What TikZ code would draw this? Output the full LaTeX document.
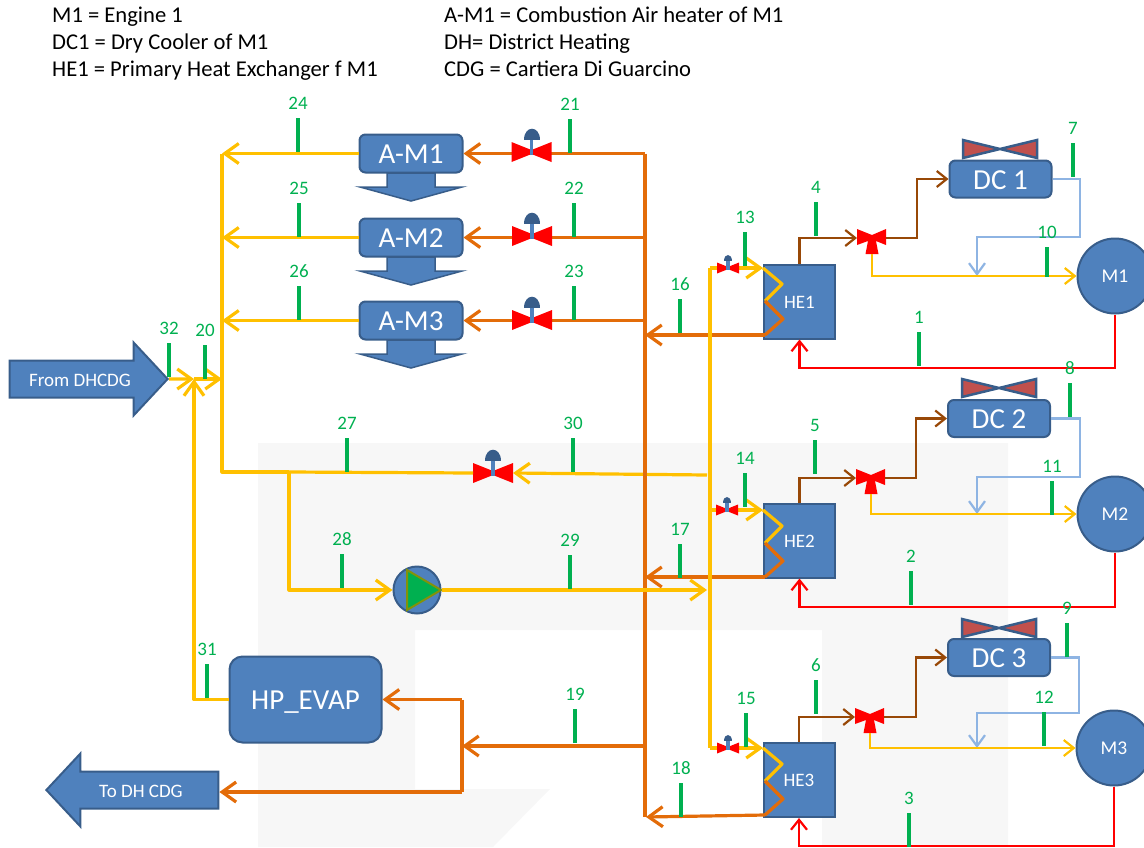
\documentclass[tikz,border=0pt]{standalone}
\usepackage{fontspec}
\setmainfont{Carlito}
\usetikzlibrary{arrows.meta, shapes.arrows, calc}
\definecolor{blockblue}{HTML}{4F81BD}
\definecolor{blockedge}{HTML}{385D8A}
\definecolor{pipeyellow}{HTML}{FFC000}
\definecolor{pipeorange}{HTML}{E36C09}
\definecolor{pipebrown}{HTML}{984807}
\definecolor{pipesky}{HTML}{8EB4E3}
\definecolor{metergreen}{HTML}{00B050}
\definecolor{fanred}{HTML}{C0504D}
\definecolor{markgray}{HTML}{F7F7F7}
\tikzset{
    pipeY/.style={line width=3.2pt, color=pipeyellow, line join=round},
    pipeO/.style={line width=3.2pt, color=pipeorange, line join=round},
    arrY/.style={pipeY, -{Straight Barb[length=14pt, width=20pt]}},
    arrO/.style={pipeO, -{Straight Barb[length=14pt, width=20pt]}},
    arrYthin/.style={-{Straight Barb[length=10pt, width=16pt]}, line width=2.2pt, color=pipeyellow},
    arrB/.style={-{Straight Barb[length=10pt, width=16pt]}, line width=2.2pt, color=pipebrown},
    arrS/.style={-{Straight Barb[length=11pt, width=16pt]}, line width=2.2pt, color=pipesky},
    arrR/.style={-{Straight Barb[length=10pt, width=16pt]}, line width=2.2pt, color=red},
    box/.style={draw=blockedge, fill=blockblue, rounded corners=6pt, line width=2pt, inner sep=0pt,
        text height=20pt, text depth=0pt, text=white, font=\fontsize{29}{30}\selectfont, align=center},
    hex/.style={rectangle, draw=blockedge, fill=blockblue, line width=2pt, inner sep=0pt,
        minimum width=71pt, minimum height=74pt, text height=13pt, text depth=0pt, text=white,
        font=\fontsize{19}{20}\selectfont},
    engine/.style={circle, draw=blockedge, fill=blockblue, line width=2pt, inner sep=0pt,
        minimum size=75pt, text height=13pt, text depth=0pt, text=white, font=\fontsize{19.5}{20}\selectfont},
    pumpbody/.style={circle, draw=blockedge, fill=blockblue, line width=2pt, inner sep=0pt, minimum size=47pt},
    pumptri/.style={draw=olive!80!green, fill=metergreen, line width=2pt, line join=miter},
    bigarr/.style={single arrow, draw=blockedge, fill=blockblue, line width=2pt, text=white, inner xsep=0pt,
        inner ysep=10pt, text height=15pt, text depth=0pt, minimum width=71pt, single arrow head extend=18pt,
        single arrow tip angle=94, font=\fontsize{19}{20}\selectfont},
    legend/.style={anchor=base west, inner sep=0pt, font=\fontsize{22.6}{24}\selectfont},
    numlbl/.style={inner sep=0pt, yshift=8pt, text=metergreen, font=\fontsize{19}{20}\selectfont},
    meter/.style={rectangle, fill=metergreen, inner sep=0pt, minimum width=3.6pt, minimum height=34pt,
        label distance=7pt, label={[numlbl]above:#1}},
    coolarr/.pic={
        \draw[draw=blockedge, fill=blockblue, line width=1.5pt, line join=miter]
            (-24,0) -- (-24,14) -- (-51,14) -- (0,28) -- (51,14) -- (24,14) -- (24,0) -- cycle;
    },
    valve/.pic={
        \fill[red] (-20,-10) -- (0,-2) -- (20,-10) -- (20,10) -- (0,2) -- (-20,10) -- cycle;
        \draw[blockblue, line width=3.5pt] (0,3) -- (0,-14);
        \fill[blockedge] (-8,-12) .. controls (-8,-27) and (8,-27) .. (8,-12) -- cycle;
        \coordinate (-west) at (-20,0);
        \coordinate (-east) at (20,0);
    },
    threeway/.pic={
        \fill[red] (-15,-9) -- (0,-3) -- (14,-9) -- (14,7) -- (4,3) -- (6.5,16) -- (-6.5,16) -- (-4,3)
            -- (-15,7) -- cycle;
        \coordinate (-west) at (-15,0);
        \coordinate (-east) at (14,0);
        \coordinate (-south) at (0,16);
    },
    fan/.pic={
        \draw[draw=blockedge, fill=fanred, line width=2.5pt] (-37,-9) -- (-37,9) -- (37,-9) -- (37,9) -- cycle;
    },
    zigzag/.pic={
        \draw[pipeY] (0,4) -- (19,20) -- (2,37);
        \draw[pipeO] (2,37) -- (20,55) -- (2,71);
        \coordinate (-in) at (0,4);
        \coordinate (-out) at (2,71);
    }
}
\begin{document}
\begin{tikzpicture}[x=1pt, y=-1pt]
    \useasboundingbox (0,0) rectangle (1144,847);
    \clip (0,0) rectangle (1144,847);
    \fill[markgray] (258,443) -- (1008,443) -- (1008,847) -- (822,847) -- (822,630) -- (415,630) -- (415,789)
        -- (550,789) -- (493,847) -- (258,847) -- cycle;

    \node[legend] (lg1) at (52,22) {M1 = Engine 1};
    \node[legend] (lg2) at (52,49) {DC1 = Dry Cooler of M1};
    \node[legend] (lg3) at (52,76) {HE1 = Primary Heat Exchanger f M1};
    \node[legend] (lg4) at (444,22) {A-M1 = Combustion Air heater of M1};
    \node[legend] (lg5) at (444,49) {DH= District Heating};
    \node[legend] (lg6) at (444,76) {CDG = Cartiera Di Guarcino};

    \pic at (411,173) {coolarr};
    \pic at (411,257) {coolarr};
    \pic at (411,340) {coolarr};
    \node[box, minimum width=103pt, minimum height=38pt] (am1) at (411,153.5) {A-M1};
    \node[box, minimum width=103pt, minimum height=38pt] (am2) at (411,237.5) {A-M2};
    \node[box, minimum width=103pt, minimum height=38pt] (am3) at (411,320.5) {A-M3};
    \node[box, minimum width=152pt, minimum height=86pt, rounded corners=13pt] (hp) at (305.5,699.5) {HP\_EVAP};
    \node[bigarr, minimum height=158pt] (from) at (80,379) {From DHCDG};
    \node[bigarr, minimum height=172pt, shape border rotate=180] (todh) at (141,790) {To DH CDG};

    \node[hex] (he1) at (799.5,301.5) {HE1};
    \node[hex] (he2) at (799.5,540.5) {HE2};
    \node[hex] (he3) at (799,780) {HE3};
    \node[engine] (m1) at (1115,276) {M1};
    \node[engine] (m2) at (1115,514) {M2};
    \node[engine] (m3) at (1114,748) {M3};
    \pic at (1000,149) {fan};
    \pic at (999,388) {fan};
    \pic at (999,628) {fan};
    \node[box, minimum width=102pt, minimum height=37pt] (dc1) at (1000.5,179) {DC 1};
    \node[box, minimum width=102pt, minimum height=37pt] (dc2) at (999,418.5) {DC 2};
    \node[box, minimum width=102pt, minimum height=37pt] (dc3) at (999,657.5) {DC 3};
    \node[pumpbody] (pump) at (417,590) {};
    \draw[pumptri] (407,570) -- (407,610) -- (441,590) -- cycle;

    \coordinate (otop) at (645,153.5);
    \coordinate (obot) at (646,817);
    \coordinate (ytop) at (222,153.5);
    \coordinate (ybot) at (222,472);
    \coordinate (yfork) at (289,472);
    \coordinate (ycol) at (710,500);
    \coordinate (yin) at (707,475);
    \coordinate (yend) at (707,590);
    \coordinate (ymix) at (194,379);
    \coordinate (ojoin) at (462,746);
    \coordinate (obend) at (462,792);
    \coordinate (rk1) at (799.5,368);
    \coordinate (rk2) at (799.5,607);
    \coordinate (rk3) at (799,846);
    \coordinate (bk1) at (917,179);
    \coordinate (bk2) at (916,418.5);
    \coordinate (bk3) at (916,657.5);
    \coordinate (sk1) at (1080,237);
    \coordinate (sk2) at (1080,477);
    \coordinate (sk3) at (1079,713);
    \coordinate (mj1) at (977,276);
    \coordinate (mj2) at (977,514);
    \coordinate (mj3) at (977,748);

    \pic (zz1) at (763,264) {zigzag};
    \pic (zz2) at (763,506) {zigzag};
    \pic (zz3) at (763,744) {zigzag};

    \pic (v30) at (493,473) {valve};
    \draw[arrY] (yin) -- (v30-east);
    \draw[pipeO] (otop) -- (obot -| otop);
    \draw[arrO] (otop) -- (am1.east);
    \draw[arrO] (otop |- am2.east) -- (am2.east);
    \draw[arrO] (otop |- am3.east) -- (am3.east);
    \draw[arrO] (zz1-out) -- (otop |- zz1-out);
    \draw[arrO] (zz2-out) -- (otop |- zz2-out);
    \draw[arrO] (zz3-out) -- (obot);
    \draw[arrO] (otop |- ojoin) -- (ojoin);
    \draw[arrO] (ojoin |- hp.east) -- (hp.east);
    \draw[pipeO] (ojoin |- hp.east) -- (obend);
    \draw[arrO] (obend) -- (obend -| todh.east);

    \draw[arrY] (am1.west) -- (ytop);
    \draw[arrY] (am2.west) -- (am2.west -| ytop);
    \draw[arrY] (am3.west) -- (am3.west -| ytop);
    \draw[pipeY] (ytop) -- (ybot) -- (yfork);
    \draw[pipeY] (yfork) -- (v30-west);
    \draw[arrY] (yfork) |- (pump.west);
    \draw[arrY] (pump.east) -- (yend);
    \draw[pipeY] (ycol |- zz1-in) -- (ycol |- zz3-in);
    \draw[arrY] (ycol |- zz1-in) -- (zz1-in);
    \draw[arrY] (ycol |- zz2-in) -- (zz2-in);
    \draw[arrY] (ycol |- zz3-in) -- (zz3-in);
    \draw[arrY] (from.east) -- (ymix);
    \draw[arrY] (ymix) -- (ymix -| ytop);
    \draw[arrY] (hp.west) -| (ymix);

    \pic (v21) at (531.5,152) {valve};
    \pic (v22) at (532,236) {valve};
    \pic (v23) at (532,320) {valve};
    \pic[scale=.55] (v13) at (728,268) {valve};
    \pic[scale=.55] (v14) at (727,510) {valve};
    \pic[scale=.55] (v15) at (728,748) {valve};

    \pic (tv1) at (872,238) {threeway};
    \pic (tv2) at (871,478) {threeway};
    \pic (tv3) at (870,717) {threeway};
    \draw[arrB] (he1.north) |- (tv1-west);
    \draw[arrB] (he2.north) |- (tv2-west);
    \draw[arrB] (he3.north) |- (tv3-west);
    \draw[arrB] (tv1-east) -| (bk1) -- (dc1.west);
    \draw[arrB] (tv2-east) -| (bk2) -- (dc2.west);
    \draw[arrB] (tv3-east) -| (bk3) -- (dc3.west);
    \draw[arrS] (dc1.east) -| (sk1) -| (mj1);
    \draw[arrS] (dc2.east) -| (sk2) -| (mj2);
    \draw[arrS] (dc3.east) -| (sk3) -| (mj3);
    \draw[arrYthin] (tv1-south) |- (m1.west);
    \draw[arrYthin] (tv2-south) |- (m2.west);
    \draw[arrYthin] (tv3-south) |- (m3.west);
    \draw[arrR] (m1.south) |- (rk1) -- (he1.south);
    \draw[arrR] (m2.south) |- (rk2) -- (he2.south);
    \draw[arrR] (m3.south) |- (rk3) -- (he3.south);

    \node[meter=1] (t1) at (919,349) {};
    \node[meter=2] (t2) at (911,588) {};
    \node[meter=3] (t3) at (909,830) {};
    \node[meter=4] (t4) at (816,219) {};
    \node[meter=5] (t5) at (815,457) {};
    \node[meter=6] (t6) at (816,697) {};
    \node[meter=7] (t7) at (1073,160) {};
    \node[meter=8] (t8) at (1070,400) {};
    \node[meter=9] (t9) at (1067,640) {};
    \node[meter=10, minimum height=30pt] (t10) at (1047,262) {};
    \node[meter=11] (t11) at (1052,498) {};
    \node[meter=12] (t12) at (1044,729) {};
    \node[meter=13] (t13) at (745,249) {};
    \node[meter=14] (t14) at (745,490) {};
    \node[meter=15] (t15) at (746,730) {};
    \node[meter=16] (t16) at (680,316) {};
    \node[meter=17] (t17) at (680,561) {};
    \node[meter=18] (t18) at (681,800) {};
    \node[meter=19] (t19) at (575,726) {};
    \node[meter=20] (t20) at (205,362) {};
    \node[meter=21] (t21) at (570,136) {};
    \node[meter=22] (t22) at (574,220) {};
    \node[meter=23] (t23) at (574,303) {};
    \node[meter=24] (t24) at (298,135) {};
    \node[meter=25] (t25) at (299,220) {};
    \node[meter=26] (t26) at (299,303) {};
    \node[meter=27] (t27) at (347,455) {};
    \node[meter=28] (t28) at (342,571) {};
    \node[meter=29] (t29) at (570,572) {};
    \node[meter=30] (t30) at (573,455) {};
    \node[meter=31] (t31) at (207,681) {};
    \node[meter=32] (t32) at (169,360) {};
\end{tikzpicture}
\end{document}
